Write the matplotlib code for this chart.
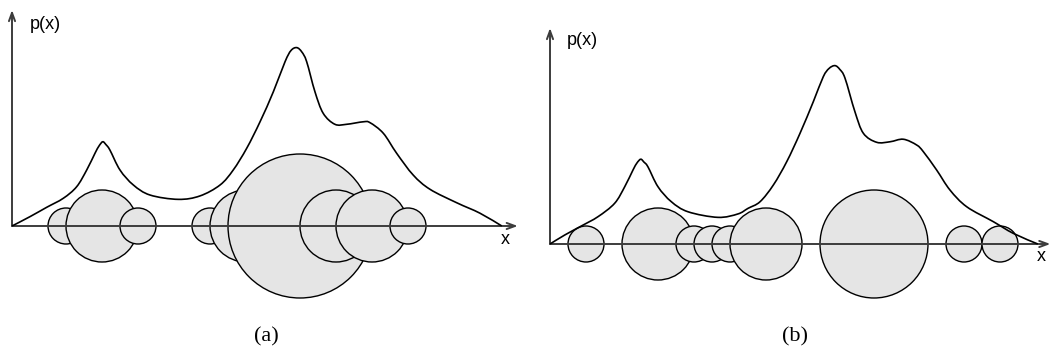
import matplotlib.pyplot as plt
from matplotlib.patches import Circle, PathPatch
from matplotlib.path import Path

# density curve p(x), panel (a)
curve_a_x = [0, 1.0, 1.93, 2.85, 3.59, 4.15, 4.61, 4.83, 5.04, 5.22, 5.44, 6.0, 6.74,
             7.67, 9.24, 10.44, 11.56, 12.29, 13.04, 13.78, 14.52, 15.17, 15.5, 15.82,
             16.1, 16.37, 16.83, 17.29, 17.94, 18.59, 19.52, 19.89, 20.63, 21.37,
             22.29, 23.22, 24.71, 26.0, 27.21]
curve_a_y = [0, 0.52, 1.04, 1.54, 2.18, 3.11, 4.04, 4.44, 4.68, 4.52, 4.22, 3.11, 2.28,
             1.72, 1.48, 1.67, 2.28, 3.11, 4.32, 5.79, 7.46, 9.13, 9.75, 9.91,
             9.67, 9.13, 7.46, 6.26, 5.65, 5.65, 5.79, 5.74, 5.15, 4.04,
             2.83, 2.04, 1.29, 0.71, 0]

# density curve p(x), panel (b)
curve_b_x = [0, 0.82, 1.74, 2.67, 3.59, 4.15, 4.61, 4.83, 5.04, 5.22, 5.44, 6.0, 6.74,
             7.67, 9.33, 10.44, 11.0, 11.67, 12.41, 13.15, 13.89, 14.63, 15.18, 15.5,
             15.83, 16.1, 16.39, 16.94, 17.41, 18.15, 18.89, 19.63, 20.37, 20.74,
             21.48, 22.22, 23.15, 24.63, 25.74, 27.1]
curve_b_y = [0, 0.5, 1.0, 1.52, 2.26, 3.18, 4.11, 4.5, 4.71, 4.55, 4.29, 3.18, 2.35,
             1.79, 1.48, 1.67, 1.98, 2.35, 3.28, 4.57, 6.15, 7.91, 9.29, 9.75,
             9.91, 9.7, 9.21, 7.35, 6.15, 5.65, 5.68, 5.82, 5.5, 5.13,
             4.11, 3.0, 2.07, 1.24, 0.59, 0]

# kernel centres and widths
centres_a = [3, 5, 7, 11, 13, 16, 18, 20, 22]
radii_a = [1, 2, 1, 1, 2, 4, 2, 2, 1]
centres_b = [2, 6, 8, 9, 10, 12, 18, 23, 25]
radii_b = [1, 2, 1, 1, 1, 2, 3, 1, 1]

UNIT = 18.0  # pixels per data unit
W, H = 1058, 356


def smooth_path(xs, ys):
    # cubic bezier segments through every point (catmull-rom tangents)
    pts = list(zip(xs, ys))
    n = len(pts)
    verts = [pts[0]]
    codes = [Path.MOVETO]
    for i in range(n - 1):
        p0 = pts[max(i - 1, 0)]
        p1 = pts[i]
        p2 = pts[i + 1]
        p3 = pts[min(i + 2, n - 1)]
        c1 = (p1[0] + (p2[0] - p0[0]) / 6, p1[1] + (p2[1] - p0[1]) / 6)
        c2 = (p2[0] - (p3[0] - p1[0]) / 6, p2[1] - (p3[1] - p1[1]) / 6)
        verts += [c1, c2, p2]
        codes += [Path.CURVE4] * 3
    return Path(verts, codes)


def draw_panel(ax, cx, r, xs, ys, xlen, ylen):
    for i, (c, rad) in enumerate(zip(cx, r)):
        ax.add_patch(Circle((c, 0), rad, facecolor="#e5e5e5", edgecolor="black",
                            lw=1.0, zorder=2 + i * 0.01))
    arrow = dict(arrowstyle="->,head_length=0.6,head_width=0.22", color="#3c3c3c",
                 lw=1.4, shrinkA=0, shrinkB=0)
    ax.annotate("", xy=(xlen, 0), xytext=(0, 0), arrowprops=arrow, zorder=3)
    ax.annotate("", xy=(0, ylen), xytext=(0, 0), arrowprops=arrow, zorder=3)
    ax.add_patch(PathPatch(smooth_path(xs, ys), fill=False, edgecolor="black",
                           lw=1.2, zorder=4))
    ax.set_aspect("equal")
    ax.axis("off")


fig = plt.figure(figsize=(W / 100, H / 100), dpi=100)

# panel (a): origin at pixel (12, 226)
ax_a = fig.add_axes([0, 0, 0.5, 1])
ax_a.set_xlim(-12 / UNIT, (529 - 12) / UNIT)
ax_a.set_ylim((226 - 356) / UNIT, 226 / UNIT)
draw_panel(ax_a, centres_a, radii_a, curve_a_x, curve_a_y, 28.1, 12.0)
ax_a.text(1.0, 11.2, "p(x)", family="Liberation Sans", fontsize=13, va="center")
ax_a.text(27.43, -0.74, "x", family="Liberation Sans", fontsize=13,
          ha="center", va="center")

# panel (b): origin at pixel (550, 244)
ax_b = fig.add_axes([0.5, 0, 0.5, 1])
ax_b.set_xlim((529 - 550) / UNIT, (1058 - 550) / UNIT)
ax_b.set_ylim((244 - 356) / UNIT, 244 / UNIT)
draw_panel(ax_b, centres_b, radii_b, curve_b_x, curve_b_y, 27.8, 12.0)
ax_b.text(0.94, 11.3, "p(x)", family="Liberation Sans", fontsize=13, va="center")
ax_b.text(27.28, -0.7, "x", family="Liberation Sans", fontsize=13,
          ha="center", va="center")

fig.text(266 / W, 1 - 337 / H, "(a)", family="Liberation Serif", fontsize=16,
         ha="center", va="center")
fig.text(795 / W, 1 - 337 / H, "(b)", family="Liberation Serif", fontsize=16,
         ha="center", va="center")

fig.savefig("out.png", dpi=100)
